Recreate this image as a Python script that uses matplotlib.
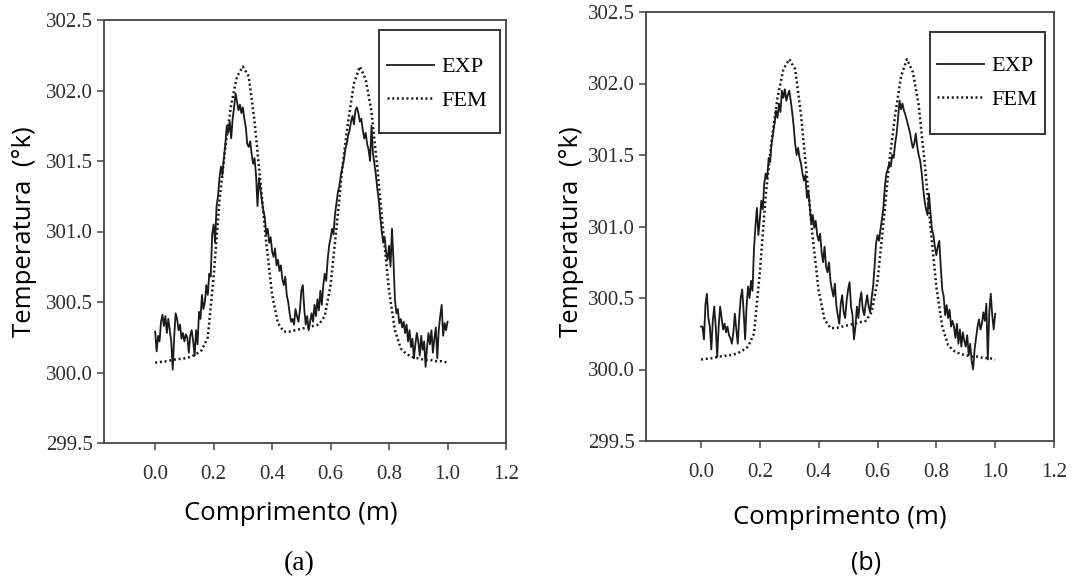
import numpy as np
import matplotlib
matplotlib.use('Agg')
import matplotlib.pyplot as plt
from matplotlib.patches import Rectangle

# posições ao longo do comprimento (m)
x_exp = np.linspace(0, 1, 201)
x_fem = np.linspace(0, 1, 51)

# curva experimental - figura (a)
exp_a = [300.29, 300.15, 300.26, 300.22, 300.36, 300.41, 300.33, 300.40, 300.28, 300.38,
         300.30, 300.22, 300.02, 300.25, 300.42, 300.38, 300.30, 300.34, 300.24, 300.28,
         300.22, 300.27, 300.25, 300.14, 300.26, 300.30, 300.22, 300.12, 300.30, 300.20,
         300.43, 300.38, 300.55, 300.45, 300.50, 300.62, 300.55, 300.70, 300.68, 300.98,
         301.05, 300.92, 301.18, 301.25, 301.38, 301.46, 301.40, 301.52, 301.62, 301.75,
         301.70, 301.78, 301.66, 301.80, 301.88, 301.98, 301.92, 301.86, 301.90, 301.84,
         301.88, 301.80, 301.74, 301.62, 301.60, 301.64, 301.55, 301.48, 301.52, 301.40,
         301.18, 301.38, 301.30, 301.22, 301.15, 301.10, 300.98, 301.02, 300.92, 300.96,
         300.86, 300.82, 300.88, 300.76, 300.80, 300.72, 300.76, 300.66, 300.62, 300.68,
         300.55, 300.50, 300.42, 300.36, 300.38, 300.34, 300.45, 300.40, 300.36, 300.44,
         300.58, 300.62, 300.45, 300.34, 300.40, 300.30, 300.36, 300.42, 300.36, 300.48,
         300.40, 300.52, 300.44, 300.58, 300.48, 300.62, 300.70, 300.65, 300.80, 300.90,
         300.95, 301.02, 300.98, 301.12, 301.20, 301.28, 301.32, 301.40, 301.45, 301.50,
         301.58, 301.62, 301.68, 301.72, 301.78, 301.82, 301.76, 301.86, 301.88, 301.84,
         301.78, 301.80, 301.72, 301.66, 301.70, 301.62, 301.58, 301.50, 301.75, 301.55,
         301.48, 301.40, 301.30, 301.22, 301.10, 301.00, 300.92, 300.96, 300.85, 300.80,
         300.90, 300.75, 301.02, 300.80, 300.52, 300.42, 300.45, 300.35, 300.38, 300.32,
         300.36, 300.28, 300.34, 300.22, 300.30, 300.18, 300.24, 300.10, 300.20, 300.28,
         300.22, 300.12, 300.26, 300.16, 300.22, 300.04, 300.18, 300.28, 300.20, 300.30,
         300.14, 300.24, 300.32, 300.10, 300.30, 300.40, 300.48, 300.26, 300.35, 300.30,
         300.36]

# curva experimental - figura (b)
exp_b = [300.30, 300.30, 300.21, 300.45, 300.53, 300.36, 300.30, 300.14, 300.34, 300.44,
         300.30, 300.09, 300.30, 300.44, 300.36, 300.28, 300.32, 300.26, 300.30, 300.24,
         300.22, 300.18, 300.26, 300.39, 300.28, 300.18, 300.36, 300.50, 300.56, 300.40,
         300.21, 300.45, 300.58, 300.50, 300.62, 300.55, 300.84, 301.00, 301.13, 300.94,
         301.05, 301.18, 301.12, 301.30, 301.37, 301.34, 301.48, 301.45, 301.58, 301.65,
         301.72, 301.81, 301.76, 301.86, 301.80, 301.95, 301.90, 301.96, 301.88, 301.92,
         301.95, 301.88, 301.80, 301.70, 301.58, 301.50, 301.55, 301.48, 301.44, 301.37,
         301.32, 301.36, 301.20, 301.25, 301.13, 301.02, 301.08, 300.99, 301.04, 300.94,
         300.90, 300.95, 300.82, 300.75, 300.86, 300.72, 300.68, 300.75, 300.62, 300.56,
         300.51, 300.60, 300.45, 300.38, 300.32, 300.46, 300.52, 300.40, 300.36, 300.48,
         300.56, 300.61, 300.44, 300.38, 300.21, 300.30, 300.44, 300.36, 300.48, 300.54,
         300.42, 300.38, 300.46, 300.52, 300.44, 300.40, 300.50, 300.58, 300.72, 300.88,
         300.94, 300.90, 300.98, 301.05, 301.13, 301.28, 301.37, 301.40, 301.44, 301.42,
         301.50, 301.48, 301.58, 301.65, 301.76, 301.88, 301.82, 301.86, 301.81, 301.78,
         301.74, 301.70, 301.66, 301.60, 301.55, 301.58, 301.65, 301.56, 301.50, 301.46,
         301.38, 301.27, 301.18, 301.12, 301.08, 301.23, 301.10, 300.98, 300.94, 300.86,
         300.80, 300.86, 300.90, 300.72, 300.56, 300.51, 300.38, 300.45, 300.36, 300.42,
         300.30, 300.34, 300.30, 300.22, 300.32, 300.18, 300.28, 300.16, 300.26, 300.20,
         300.16, 300.24, 300.10, 300.18, 300.06, 300.00, 300.14, 300.22, 300.30, 300.35,
         300.28, 300.32, 300.40, 300.34, 300.46, 300.07, 300.40, 300.53, 300.38, 300.28,
         300.39]

# simulação por elementos finitos
fem = [300.07, 300.075, 300.08, 300.09, 300.095, 300.10, 300.11, 300.13, 300.16, 300.25,
       300.68, 301.22, 301.60, 301.90, 302.10, 302.17, 302.10, 301.78, 301.35, 300.92,
       300.55, 300.35, 300.29, 300.29, 300.30, 300.31, 300.32, 300.33, 300.34, 300.40,
       300.62, 301.02, 301.45, 301.78, 302.05, 302.17, 302.08, 301.85, 301.45, 301.00,
       300.58, 300.30, 300.17, 300.13, 300.11, 300.10, 300.09, 300.09, 300.08, 300.08,
       300.07]

y_ticks = [299.5, 300.0, 300.5, 301.0, 301.5, 302.0, 302.5]
x_ticks = [0.0, 0.2, 0.4, 0.6, 0.8, 1.0, 1.2]

W, H = 1081, 580
fig = plt.figure(figsize=(W / 100, H / 100), dpi=100)

tick_font = {'family': 'Liberation Serif', 'size': 15, 'color': '#2e2e2e'}
label_font = {'family': 'Open Sans', 'size': 18.5, 'color': 'black'}


def painel(rect, xmin, exp, caixa, ancora):
    ax = fig.add_axes(rect)
    ax.plot(x_exp, exp, '-', color='#1a1a1a', lw=1.3, label='EXP')
    ax.plot(x_fem, fem, color='#1a1a1a', lw=1.8, linestyle=(0, (0.8, 1.1)), label='FEM')
    ax.set_xlim(xmin, 1.2)
    ax.set_ylim(299.5, 302.5)
    ax.set_xticks(x_ticks)
    ax.set_yticks(y_ticks)
    ax.set_xticklabels(['%.1f' % v for v in x_ticks], fontdict=tick_font)
    ax.set_yticklabels(['%.1f' % v for v in y_ticks], fontdict=tick_font)
    ax.tick_params(axis='x', direction='out', length=5, width=1.1, pad=11, color='#444444')
    ax.tick_params(axis='y', direction='out', length=5, width=1.1, pad=3, color='#444444')
    for s in ax.spines.values():
        s.set_color('#444444')
        s.set_linewidth(1.3)
    # legenda sem moldura + caixa desenhada à parte
    ax.legend(loc='center left', bbox_to_anchor=ancora, borderaxespad=0, borderpad=0,
              frameon=False, handlelength=2.1, handletextpad=0.35, labelspacing=0.6,
              prop={'family': 'Liberation Serif', 'size': 16})
    ax.add_patch(Rectangle(caixa[:2], caixa[2], caixa[3], transform=ax.transAxes,
                           fill=False, edgecolor='#333333', lw=1.4, zorder=5))
    return ax


ax1 = painel([104 / W, 1 - 443 / H, 402 / W, 423 / H], -0.175, exp_a,
             (0.684, 0.733, 0.301, 0.2435), (0.705, 0.8487))
ax2 = painel([646 / W, 1 - 441 / H, 408 / W, 429 / H], -0.187, exp_b,
             (0.696, 0.7156, 0.282, 0.2378), (0.713, 0.8345))

# rótulos dos eixos
fig.text(25 / W, 1 - 232 / H, 'Temperatura  (°k)', rotation=90, ha='center', va='center', fontdict=label_font)
fig.text(571 / W, 1 - 232 / H, 'Temperatura  (°k)', rotation=90, ha='center', va='center', fontdict=label_font)
fig.text(291 / W, 1 - 513 / H, 'Comprimento (m)', ha='center', va='center', fontdict=label_font)
fig.text(840 / W, 1 - 518 / H, 'Comprimento (m)', ha='center', va='center', fontdict=label_font)
fig.text(299 / W, 1 - 564 / H, '(a)', ha='center', va='center', family='Liberation Serif', size=20)
fig.text(866 / W, 1 - 563 / H, '(b)', ha='center', va='center', family='Open Sans', size=18)

plt.savefig('out.png', dpi=100)
